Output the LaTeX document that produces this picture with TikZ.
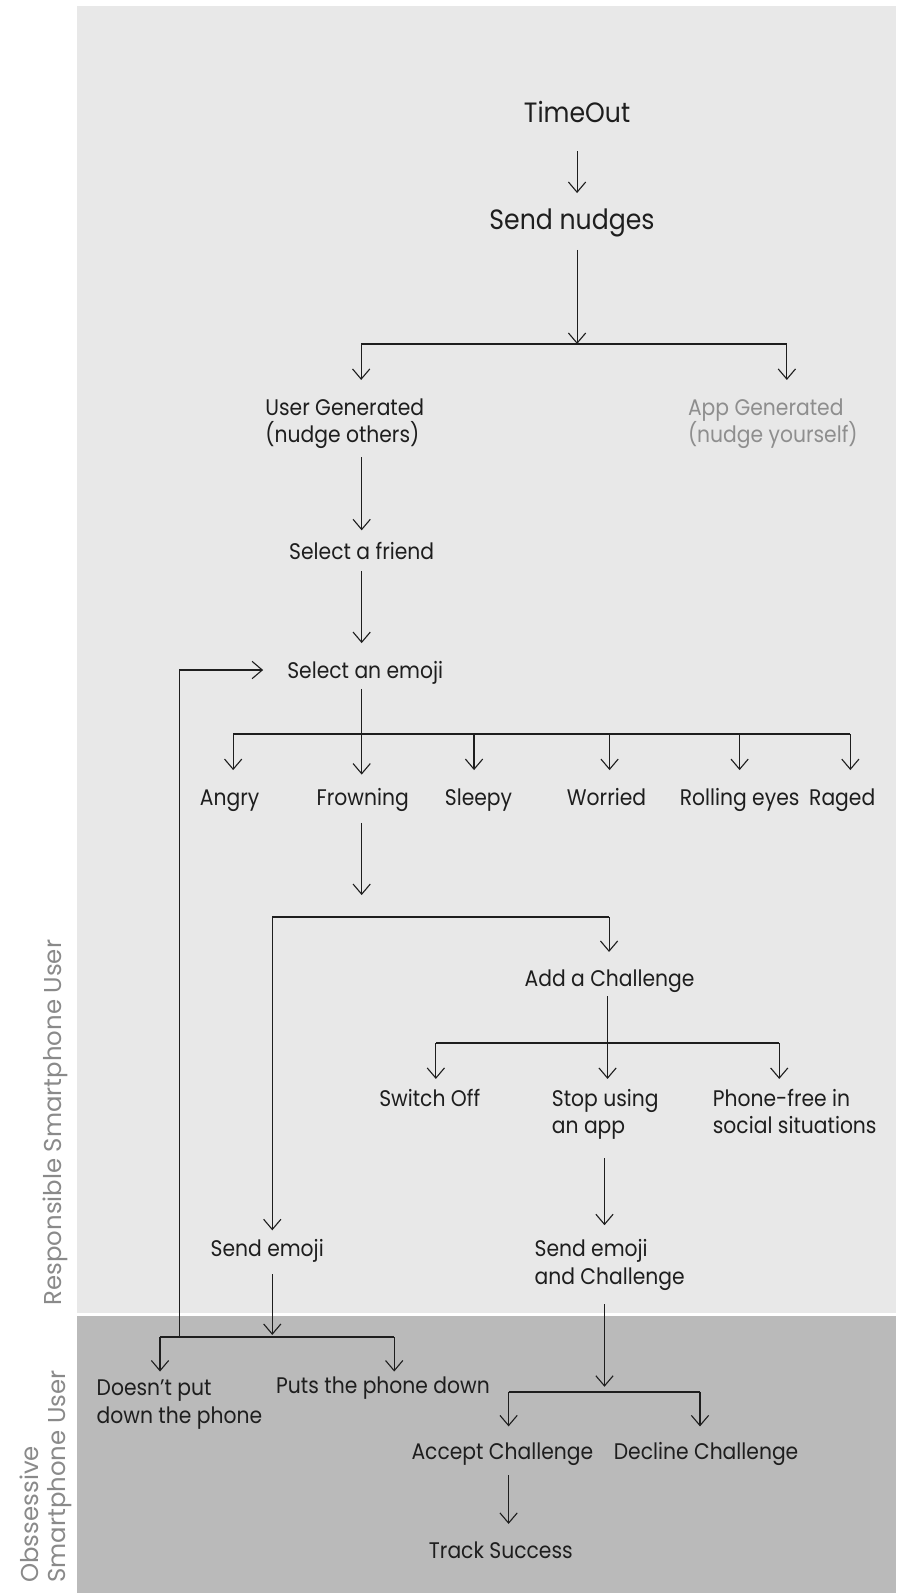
\documentclass[tikz,border=0pt]{standalone}
\usepackage{fontspec}
\usetikzlibrary{arrows.meta,calc}
\newfontfamily\mainf[FakeStretch=0.9]{Poppins}
\newfontfamily\sidef{Poppins}
\definecolor{bandA}{HTML}{E8E8E8}
\definecolor{bandB}{HTML}{BABABA}
\definecolor{ink}{HTML}{1E1E1E}
\definecolor{dim}{HTML}{8E8E8E}
\definecolor{sidec}{HTML}{8A8A8A}
\newcommand{\tlines}[2]{\vtop{\hbox{#1}\hbox{#2}}}
\begin{document}
\begin{tikzpicture}[x=1pt,y=-1pt,
  lbl/.style={font=\mainf\fontsize{22.2}{27}\selectfont, text=ink, inner sep=0pt, anchor=base},
  big/.style={lbl, font=\mainf\fontsize{27.5}{33}\selectfont},
  lblL/.style={lbl, anchor=base west},
  sidelbl/.style={font=\sidef\fontsize{24}{26}\selectfont, text=sidec, inner sep=0pt, rotate=90, anchor=base west},
  arr/.style={draw=ink, line width=1.1pt, -{Straight Barb[length=10pt,width=17pt]}},
  bar/.style={draw=ink, line width=1.8pt},
]
\useasboundingbox (0,0) rectangle (882,1568);
\fill[white] (0,0) rectangle (882,1568);
\fill[bandA] (76,6) rectangle (882,1292);
\fill[bandB] (76,1295) rectangle (882,1568);

% side labels
\node[sidelbl] (resp) at (61,1285) {Responsible Smartphone User};
\node[sidelbl] (obs) at (38,1558) {\tlines{Obssessive}{Smartphone User}};

% nodes
\node[big] (timeout) at (568,121) {TimeOut};
\node[big] (nudges) at (563,225.6) {Send nudges};
\node[lblL] (usergen) at (261,408.5) {\tlines{User Generated}{(nudge others)}};
\node[lblL, text=dim] (appgen) at (677,408.5) {\tlines{App Generated}{(nudge yourself)}};
\node[lbl] (friend) at (356,551) {Select a friend};
\node[lblL] (emoji) at (282.6,667.6) {Select an emoji};
\node[lbl] (angry) at (226,792.4) {Angry};
\node[lbl] (frown) at (357,792.4) {Frowning};
\node[lbl] (sleepy) at (471,792.4) {Sleepy};
\node[lbl] (worried) at (597,792.4) {Worried};
\node[lbl] (rolling) at (728,792.4) {Rolling eyes};
\node[lbl] (raged) at (829,792.4) {Raged};
\node[lbl] (addch) at (600,970.6) {Add a Challenge};
\node[lbl] (switch) at (423,1088.7) {Switch Off};
\node[lblL] (stopapp) at (543,1088.7) {\tlines{Stop using}{an app}};
\node[lblL] (phonefree) at (701.5,1088.7) {\tlines{Phone-free in}{social situations}};
\node[lbl] (sendemoji) at (263,1237) {Send emoji};
\node[lblL] (sendch) at (526,1237) {\tlines{Send emoji}{and Challenge}};
\node[lblL] (notdown) at (95,1374) {\tlines{Doesn’t put}{down the phone}};
\node[lblL] (down) at (271.7,1372) {Puts the phone down};
\node[lbl] (accept) at (494.5,1437) {Accept Challenge};
\node[lbl] (decline) at (695,1437) {Decline Challenge};
\node[lbl] (track) at (493,1533.6) {Track Success};

% junction coordinates
\coordinate (s1) at (568,338.6);
\coordinate (s1l) at (355.5,338.6);
\coordinate (s1r) at (774.5,338.6);
\coordinate (s2) at (356,722.5);
\coordinate (s2a) at (229.5,722.5);
\coordinate (s2s) at (466.6,722.5);
\coordinate (s2w) at (600,722.5);
\coordinate (s2r) at (728,722.5);
\coordinate (s2g) at (837,722.5);
\coordinate (fin) at (356,881);
\coordinate (s3l) at (268,903);
\coordinate (s3r) at (599.5,903);
\coordinate (s4) at (598,1027);
\coordinate (s4l) at (429,1027);
\coordinate (s4r) at (767,1027);
\coordinate (c5) at (595,1140);
\coordinate (s6) at (268,1316);
\coordinate (s6l) at (157.5,1316);
\coordinate (s6r) at (388,1316);
\coordinate (fb) at (177,1316);
\coordinate (fbt) at ($(emoji.base west)+(-23.6,-8.1)$);
\coordinate (c7) at (595,1283.6);
\coordinate (s7l) at (500.6,1370);
\coordinate (s7r) at (689,1370);

% connectors
\draw[arr] ($(timeout.base)+(0,28)$) -- ($(nudges.base -| timeout.base)+(0,-35.6)$);
\draw[arr] ($(nudges.base -| s1)+(0,20.4)$) -- (s1);
\draw[bar] (s1l) -- (s1r);
\draw[arr] (s1l) -- ($(usergen.base -| s1l)+(0,-34.5)$);
\draw[arr] (s1r) -- ($(appgen.base -| s1r)+(0,-34.5)$);

\draw[arr] ($(usergen.base -| friend.base)+(0,41.5)$) -- ($(friend.base)+(0,-29)$);
\draw[arr] ($(friend.base)+(0,11)$) -- ($(emoji.base -| friend.base)+(0,-34.6)$);

\draw[bar] (s2a) -- (s2g);
\draw[arr] ($(emoji.base -| s2)+(0,10.4)$) -- ($(frown.base -| s2)+(0,-30)$);
\draw[arr] (s2a) -- ($(angry.base -| s2a)+(0,-34.4)$);
\draw[arr] (s2s) -- ($(sleepy.base -| s2s)+(0,-34.4)$);
\draw[arr] (s2w) -- ($(worried.base -| s2w)+(0,-34.4)$);
\draw[arr] (s2r) -- ($(rolling.base -| s2r)+(0,-34.4)$);
\draw[arr] (s2g) -- ($(raged.base -| s2g)+(0,-34.4)$);

\draw[arr] ($(frown.base -| fin)+(0,17.6)$) -- (fin);
\draw[bar] (s3l) -- (s3r);
\draw[arr] (s3r) -- ($(addch.base -| s3r)+(0,-33.6)$);
\draw[arr] (s3l) -- ($(sendemoji.base -| s3l)+(0,-26)$);

\draw[arr] ($(addch.base -| s4)+(0,10)$) -- ($(stopapp.base -| s4)+(0,-26.7)$);
\draw[bar] (s4l) -- (s4r);
\draw[arr] (s4l) -- ($(switch.base -| s4l)+(0,-26.7)$);
\draw[arr] (s4r) -- ($(phonefree.base -| s4r)+(0,-26.7)$);

\draw[arr] (c5) -- ($(sendch.base -| c5)+(0,-31)$);

\draw[arr] ($(sendemoji.base -| s6)+(0,17)$) -- ($(s6)+(0,-2)$);
\draw[bar] (s6l) -- (s6r);
\draw[arr] (s6l) -- ($(notdown.base -| s6l)+(0,-24)$);
\draw[arr] (s6r) -- ($(down.base -| s6r)+(0,-22)$);
\draw[arr] (fb) -- (fb |- fbt) -- (fbt);

\draw[arr] (c7) -- ($(c7 |- s7l)+(0,-5)$);
\draw[bar] (s7l) -- (s7r);
\draw[arr] (s7l) -- ($(accept.base -| s7l)+(0,-33)$);
\draw[arr] (s7r) -- ($(decline.base -| s7r)+(0,-33)$);
\draw[arr] ($(accept.base -| s7l)+(0,15)$) -- ($(track.base -| s7l)+(0,-33.6)$);
\end{tikzpicture}
\end{document}
